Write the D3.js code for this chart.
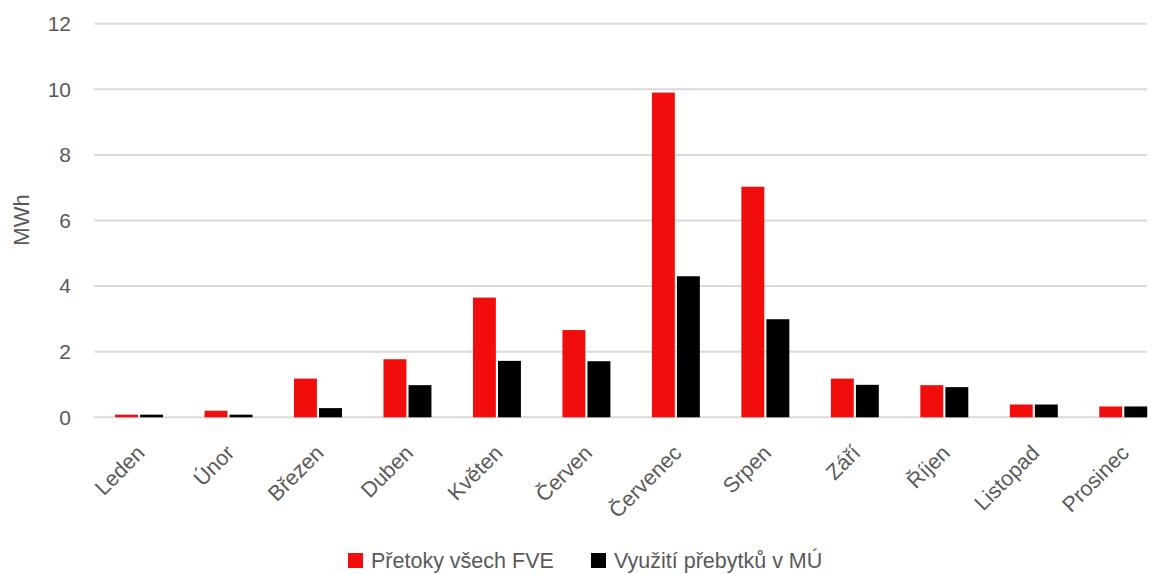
<!DOCTYPE html>
<html>
<head>
<meta charset="utf-8">
<script src="https://cdn.jsdelivr.net/npm/d3@7"></script>
<style>
  html, body { margin: 0; padding: 0; background: #fff; }
  svg { display: block; }
  text { font-family: "Liberation Sans", Arial, sans-serif; fill: #595959; }
</style>
</head>
<body>
<svg id="chart" width="1155" height="574"></svg>
<script>
// Monthly data (MWh)
const months = ["Leden", "Únor", "Březen", "Duben", "Květen", "Červen",
                "Červenec", "Srpen", "Září", "Říjen", "Listopad", "Prosinec"];
const pretoky = [0.08, 0.2, 1.18, 1.77, 3.65, 2.66, 9.9, 7.03, 1.18, 0.98, 0.39, 0.33];
const vyuziti = [0.08, 0.08, 0.28, 0.98, 1.72, 1.71, 4.3, 2.99, 0.99, 0.92, 0.39, 0.33];
const seriesNames = ["Přetoky všech FVE", "Využití přebytků v MÚ"];
const seriesColors = ["#F20D0D", "#000000"];
const yTicks = [0, 2, 4, 6, 8, 10, 12];

const svg = d3.select("#chart");
const plotLeft = 94.3, plotRight = 1168, gridRight = 1147;
const yTop = 23.7, yBottom = 417.3;

const x = d3.scaleBand().domain(months).range([plotLeft, plotRight]).paddingInner(0.464).paddingOuter(0.232);
const xSub = d3.scaleBand().domain([0, 1]).range([0, x.bandwidth()]).paddingInner(0.085);
const y = d3.scaleLinear().domain([0, 12]).range([yBottom, yTop]);

// Gridlines
svg.append("g").selectAll("line").data(yTicks).join("line")
  .attr("x1", plotLeft).attr("x2", gridRight)
  .attr("y1", d => y(d)).attr("y2", d => y(d))
  .attr("stroke", "#D9D9D9").attr("stroke-width", 2);

// Y tick labels
const yAxis = d3.axisLeft(y).tickValues(yTicks).tickSize(0).tickPadding(0);
const yg = svg.append("g").attr("transform", `translate(71,0)`).call(yAxis);
yg.select(".domain").remove();
yg.selectAll("text").attr("font-size", 21).attr("fill", "#595959")
  .style("font-family", '"Liberation Sans", Arial, sans-serif');

// Y axis title
svg.append("text").attr("transform", "translate(29,220) rotate(-90)")
  .attr("text-anchor", "middle").attr("font-size", 22).text("MWh");

// Bars
const rows = months.map((m, i) => ({ m, vals: [pretoky[i], vyuziti[i]] }));
const groups = svg.append("g").selectAll("g").data(rows).join("g")
  .attr("transform", d => `translate(${x(d.m)},0)`);
groups.selectAll("rect").data(d => d.vals.map((v, k) => ({ v, k }))).join("rect")
  .attr("x", d => xSub(d.k)).attr("width", xSub.bandwidth())
  .attr("y", d => y(d.v)).attr("height", d => y(0) - y(d.v))
  .attr("fill", d => seriesColors[d.k]);

// Category labels
const xAxis = d3.axisBottom(x).tickSize(0).tickPadding(0);
const xg = svg.append("g").attr("transform", `translate(0,${yBottom})`).call(xAxis);
xg.select(".domain").remove();
xg.selectAll("text")
  .attr("font-size", 21.5).attr("fill", "#595959")
  .style("font-family", '"Liberation Sans", Arial, sans-serif')
  .attr("text-anchor", "end")
  .attr("dy", 0)
  .attr("transform", "translate(7,37) rotate(-45)");

// Legend
const legend = svg.append("g");
const legendX = [348, 591];
seriesNames.forEach((name, k) => {
  const g = legend.append("g").attr("transform", `translate(${legendX[k]},553)`);
  g.append("rect").attr("width", 15).attr("height", 15).attr("fill", seriesColors[k]);
  g.append("text").attr("x", 23).attr("y", 15).attr("font-size", 21.5).text(name);
});
</script>
</body>
</html>
